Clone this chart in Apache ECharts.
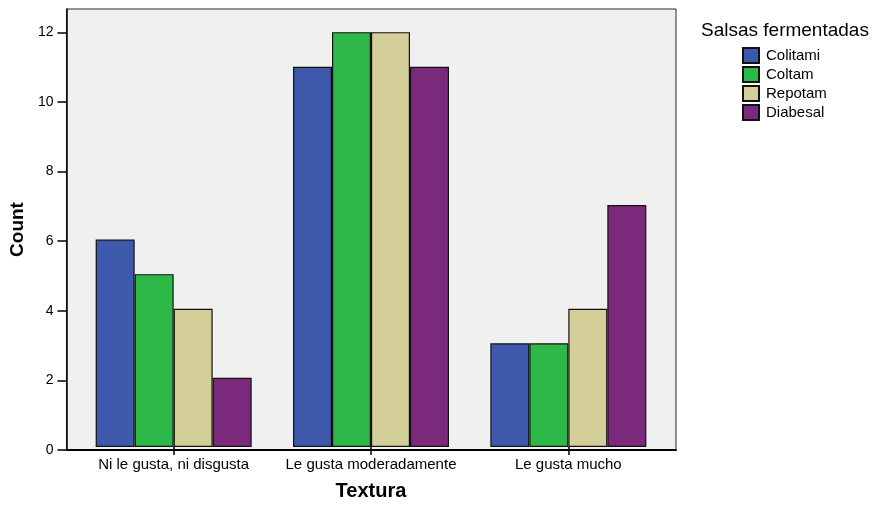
<!DOCTYPE html>
<html>
<head>
<meta charset="utf-8">
<script src="https://cdn.jsdelivr.net/npm/echarts@6/dist/echarts.min.js"></script>
<style>html,body{margin:0;padding:0;background:#fff;}#c{width:875px;height:506px;}</style>
</head>
<body>
<div id="c"></div>
<script>
var categories = ['Ni le gusta, ni disgusta', 'Le gusta moderadamente', 'Le gusta mucho'];
var seriesNames = ['Colitami', 'Coltam', 'Repotam', 'Diabesal'];
var colitami = [6, 11, 3];
var coltam = [5, 12, 3];
var repotam = [4, 12, 4];
var diabesal = [2, 11, 7];
var yTicks = [0, 2, 4, 6, 8, 10, 12];

var colors = ['#3E58AC', '#2EB848', '#D4CE98', '#7B2A7B'];
var values = [colitami, coltam, repotam, diabesal];
var FONT = 'Liberation Sans, Arial, sans-serif';
var yMax = 12.67;

var chart = echarts.init(document.getElementById('c'));
chart.setOption({
  animation: false,
  textStyle: {fontFamily: FONT},
  title: {
    text: 'Salsas fermentadas', left: 696, top: 16,
    textStyle: {fontFamily: FONT, fontSize: 19, fontWeight: 'normal', color: '#000'}
  },
  legend: {
    orient: 'vertical', left: 737, top: 42,
    itemWidth: 16, itemHeight: 15, itemGap: 2,
    icon: 'rect',
    textStyle: {fontFamily: FONT, fontSize: 15, color: '#000', padding: [0, 0, 0, 2]},
    data: seriesNames
  },
  grid: [
    {left: 66, top: 9, width: 610, height: 441, show: true, backgroundColor: '#F0F0F0', borderColor: '#2a2a2a', borderWidth: 1},
    {left: 75, top: 9, width: 592, height: 441}
  ],
  xAxis: [
    {gridIndex: 0, type: 'value', min: 0, max: 1, show: true,
      axisLine: {show: true, onZero: false, lineStyle: {color: '#000', width: 2}},
      axisTick: {show: false}, axisLabel: {show: false}, splitLine: {show: false}},
    {
      gridIndex: 1, type: 'category', data: categories,
      axisLine: {show: false},
      axisTick: {show: true, alignWithLabel: true, interval: 0, length: 8, lineStyle: {color: '#000', width: 1.5}},
      axisLabel: {fontFamily: FONT, fontSize: 15, color: '#000', margin: 10, interval: 0, hideOverlap: false},
      name: 'Textura', nameLocation: 'middle', nameGap: 34,
      nameTextStyle: {fontFamily: FONT, fontSize: 20, fontWeight: 'bold', color: '#000'}
    }
  ],
  yAxis: [
    {
      gridIndex: 0, type: 'value', min: 0, max: yMax,
      splitLine: {show: false},
      axisLine: {show: true, lineStyle: {color: '#000', width: 1.5}},
      axisTick: {show: true, length: 9, customValues: yTicks, lineStyle: {color: '#000', width: 1.5}},
      axisLabel: {fontFamily: FONT, fontSize: 14, color: '#000', margin: 13, customValues: yTicks},
      name: 'Count', nameLocation: 'middle', nameGap: 37,
      nameTextStyle: {fontFamily: FONT, fontSize: 19, fontWeight: 'bold', color: '#000'}
    },
    {gridIndex: 1, type: 'value', min: 0, max: yMax, show: false}
  ],
  series: seriesNames.map(function (n, i) {
    return {
      name: n, type: 'bar', xAxisIndex: 1, yAxisIndex: 1,
      data: values[i], barWidth: 39, barGap: '0%',
      itemStyle: {color: colors[i], borderColor: '#111', borderWidth: 1.2}
    };
  })
});
</script>
</body>
</html>
